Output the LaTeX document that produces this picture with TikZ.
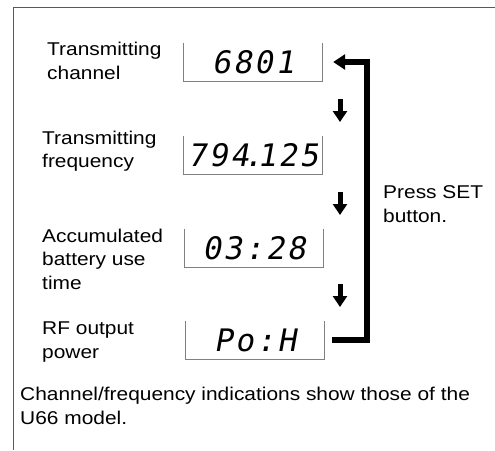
\documentclass[tikz,border=0pt]{standalone}
\usepackage{fontspec}
\setmainfont{Liberation Sans}
\newfontfamily\lcdfont[FakeSlant=0.18, LetterSpace=8]{DejaVu Sans Mono}
\usepackage{tikz}
\usetikzlibrary{arrows.meta}

\begin{document}
\begin{tikzpicture}[x=1pt,y=1pt]
			\tikzstyle{lbl}=[anchor=west, align=left, inner sep=0pt, font=\fontsize{18.5}{23.5}\selectfont, xscale=1.13, transform shape]
			\tikzstyle{lcd}=[minimum width=138pt, minimum height=38pt, inner sep=0pt, font=\lcdfont\fontsize{31}{31}\selectfont]
			\tikzstyle{lcdedge}=[draw=gray, line width=0.9pt]
			\tikzstyle{down}=[line width=5pt, -{Triangle[width=14pt,length=11pt]}]
			\tikzstyle{setloop}=[line width=5.5pt, -{Triangle[width=15pt,length=12pt]}]
			\useasboundingbox (0,0) rectangle (495,-450);
			\draw [gray!70!black, line width=1pt] (495,-7) -- (13,-7) -- (13,-450);
			\node [lcd] (d1) at (253,-62) {6801};
			\node [lcd] (d2) at (253,-155) {794\kern-5pt.\kern-5pt125};
			\node [lcd] (d3) at (254,-248) {03:28};
			\node [lcd] (d4) at (255,-340) {Po:H};
			\foreach \dsp in {d1,d2,d3,d4}
				\draw [lcdedge] (\dsp.north west) -- (\dsp.south west) -- (\dsp.south east) -- (\dsp.north east);
			\node [lbl] (l1) at (47,-61) {Transmitting\\channel};
			\node [lbl] (l2) at (42,-151) {Transmitting\\frequency};
			\node [lbl] (l3) at (42,-259) {Accumulated\\battery use\\time};
			\node [lbl] (l4) at (42,-342) {RF output\\power};
			\node [lbl] (press) at (383,-204) {Press SET\\button.};
			\node [lbl] (note) at (20,-406) {Channel/frequency indications show those of the\\U66 model.};
			\coordinate (s1) at (340,-99);
			\coordinate (s2) at (340,-192);
			\coordinate (s3) at (340,-284);
			\foreach \s in {s1,s2,s3}
				\draw [down] (\s) -- ++(0,-23);
			\draw [setloop, shorten <=8pt, shorten >=11pt] (d4.east) -- ++(43,0) |- (d1.east);
\end{tikzpicture}
\end{document}
